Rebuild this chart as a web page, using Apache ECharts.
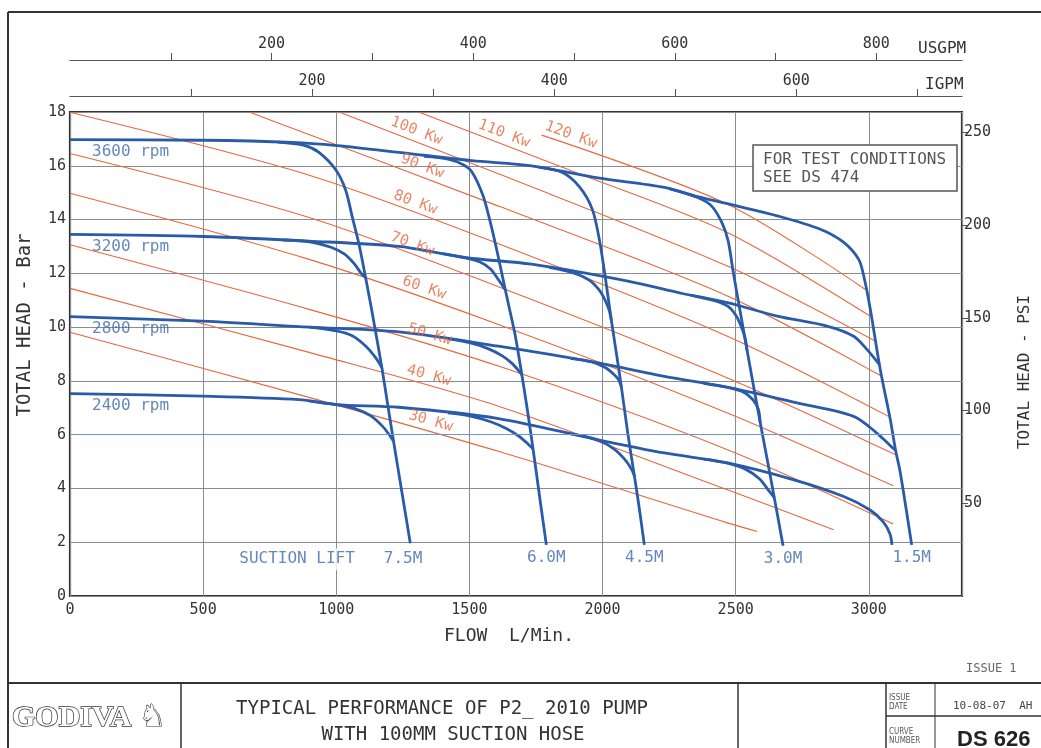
<!DOCTYPE html>
<html>
<head>
<meta charset="utf-8">
<script src="https://cdn.jsdelivr.net/npm/echarts@6/dist/echarts.min.js"></script>
<style>
  html, body { margin: 0; padding: 0; background: #fff; }
  #main { width: 1041px; height: 748px; }
</style>
</head>
<body>
<div id="main"></div>
<script>
// flow in L/min, head in bar
const FLOW_MAX = 3350;
const HEAD_MAX = 18;
const BAR_TO_PSI = 14.5038;
const L_PER_USGAL = 3.78541;
const L_PER_IGAL = 4.54609;

// pump speed curves
const rpmNames = ['3600 rpm', '3200 rpm', '2800 rpm', '2400 rpm'];
const rpm3600 = [[0,16.97],[500,16.95],[835,16.87],[1003,16.75],[1235,16.5],[1509,16.19],[1733,16.0],[1983,15.55],[2232,15.2],[2357,14.85],[2507,14.5],[2656,14.14],[2818,13.64],[2906,13.15],[2962,12.52],[2981,11.9],[3005,10.7],[3043,8.42],[3080,6.6],[3100,5.45],[3118,4.6],[3161,1.9]];
const rpm3200 = [[0,13.45],[499,13.37],[898,13.2],[1235,13.0],[1490,12.58],[1733,12.34],[2095,11.71],[2300,11.25],[2469,10.91],[2656,10.41],[2843,10.04],[2943,9.66],[2993,9.17],[3040,8.6]];
const rpm2800 = [[0,10.39],[499,10.22],[898,10.0],[1235,9.82],[1609,9.29],[1983,8.67],[2232,8.17],[2481,7.74],[2731,7.18],[2943,6.68],[3030,6.06],[3080,5.6],[3100,5.42]];
const rpm2400 = [[0,7.53],[499,7.43],[860,7.3],[998,7.12],[1235,7.02],[1609,6.6],[1983,5.81],[2232,5.32],[2469,4.95],[2719,4.32],[2906,3.7],[3005,3.2],[3055,2.75],[3080,2.3],[3087,1.9]];

// suction lift limits (the 1.5M limit is the tail of the 3600 rpm curve)
const liftNames = ['7.5M', '6.0M', '4.5M', '3.0M', '1.5M'];
const lift75 = [[780,16.88],[880,16.76],[935,16.5],[998,15.85],[1035,15.1],[1060,14.1],[1085,13.1],[1110,11.85],[1130,10.8],[1150,9.7],[1172,8.45],[1195,7.0],[1216,5.7],[1247,3.83],[1278,1.96]];
const lift60 = [[1330,16.35],[1420,16.25],[1475,16.05],[1509,15.78],[1550,14.92],[1578,13.92],[1603,12.86],[1628,11.7],[1650,10.7],[1672,9.7],[1695,8.35],[1718,6.9],[1740,5.4],[1765,3.6],[1789,1.9]];
const lift45 = [[1760,15.95],[1850,15.75],[1915,15.2],[1962,14.37],[1990,13.15],[2011,11.8],[2031,10.4],[2047,9.35],[2069,7.9],[2095,6.04],[2118,4.57],[2137,3.33],[2157,1.9]];
const lift30 = [[2250,15.15],[2357,14.82],[2410,14.5],[2450,13.85],[2472,13.2],[2490,12.1],[2512,10.85],[2540,9.3],[2568,7.75],[2596,6.25],[2621,4.95],[2647,3.55],[2678,1.87]];

// lower speed curves bending onto each suction lift limit
const bend3200to75 = [[800,13.24],[900,13.17],[980,12.97],[1030,12.72],[1068,12.35],[1095,11.98],[1110,11.85]];
const bend3200to60 = [[1400,12.73],[1480,12.58],[1540,12.42],[1580,12.15],[1610,11.75],[1635,11.38]];
const bend3200to45 = [[1800,12.22],[1890,12.02],[1950,11.75],[1990,11.35],[2012,10.95],[2026,10.6],[2033,10.27]];
const bend3200to30 = [[2330,11.19],[2420,10.98],[2470,10.78],[2500,10.45],[2522,10.0],[2535,9.6],[2543,9.13]];
const bend2800to75 = [[900,10.0],[1000,9.86],[1060,9.68],[1110,9.3],[1145,8.9],[1171,8.5]];
const bend2800to60 = [[1420,9.56],[1500,9.42],[1570,9.2],[1625,8.92],[1660,8.65],[1683,8.4],[1697,8.22]];
const bend2800to45 = [[1880,8.84],[1960,8.71],[2010,8.5],[2042,8.25],[2060,8.05],[2071,7.76]];
const bend2800to30 = [[2380,7.91],[2470,7.76],[2530,7.58],[2565,7.3],[2585,6.95],[2592,6.47]];
const bend2400to75 = [[900,7.25],[1000,7.12],[1070,6.97],[1130,6.7],[1175,6.3],[1200,5.98],[1215,5.76]];
const bend2400to60 = [[1420,6.81],[1500,6.7],[1580,6.48],[1640,6.22],[1685,5.95],[1715,5.7],[1739,5.47]];
const bend2400to45 = [[1880,6.03],[1980,5.81],[2045,5.45],[2090,5.0],[2112,4.65],[2120,4.44]];
const bend2400to30 = [[2380,5.09],[2470,4.94],[2540,4.7],[2590,4.35],[2622,3.95],[2645,3.66]];

// absorbed power lines
const kwNames = ['30 Kw', '40 Kw', '50 Kw', '60 Kw', '70 Kw', '80 Kw', '90 Kw', '100 Kw', '110 Kw', '120 Kw'];
const kw30 = [[0,9.81],[860,7.49],[1609,5.38],[2469,2.72],[2581,2.40]];
const kw40 = [[0,11.44],[898,9.06],[1609,7.06],[2469,3.95],[2868,2.46]];
const kw50 = [[0,13.06],[898,10.66],[1609,8.55],[2469,5.44],[3092,2.68]];
const kw60 = [[0,14.98],[898,12.52],[1609,10.1],[2469,6.81],[3092,4.10]];
const kw70 = [[0,16.46],[898,14.08],[1609,11.5],[2469,8.11],[3099,5.26]];
const kw80 = [[0,17.99],[898,15.65],[1609,13.1],[2469,9.66],[3074,6.68]];
const kw90 = [[673,18],[860,17.3],[1609,14.5],[2469,11.16],[3049,8.17]];
const kw100 = [[1010,18],[1609,15.7],[2469,12.27],[3024,9.48]];
const kw110 = [[1309,18],[1900,15.75],[2469,13.52],[3005,10.41]];
const kw120 = [[1771,17.14],[2469,14.57],[2987,11.4]];
const kwLabelFlow = [1347, 1340, 1343, 1321, 1276, 1287, 1313, 1291, 1620, 1871];

const rpmCurves = [rpm3600, rpm3200, rpm2800, rpm2400];
const liftCurves = [lift75, lift60, lift45, lift30];
const bends = [bend3200to75, bend3200to60, bend3200to45, bend3200to30,
               bend2800to75, bend2800to60, bend2800to45, bend2800to30,
               bend2400to75, bend2400to60, bend2400to45, bend2400to30];
const kwLines = [kw30, kw40, kw50, kw60, kw70, kw80, kw90, kw100, kw110, kw120];

const BLUE = '#2a5ba9';
const LABEL_BLUE = '#3d69ab';
const ORANGE = '#e5683f';
const INK = '#333';
const MONO = 'DejaVu Sans Mono';

function headAt(line, f) {
  let i = 0;
  while (i < line.length - 2 && line[i + 1][0] < f) i++;
  const a = line[i], b = line[i + 1];
  return a[1] + (b[1] - a[1]) * (f - a[0]) / (b[0] - a[0]);
}

function blueLine(data) {
  return {
    type: 'line', data: data, showSymbol: false, smooth: 0.3, silent: true, z: 3,
    lineStyle: { color: BLUE, width: 2.8 }
  };
}

const series = [];
kwLines.forEach(function (line, i) {
  const s = {
    type: 'line', name: kwNames[i], data: line, showSymbol: false, smooth: 0.3, silent: true, z: 2,
    lineStyle: { color: ORANGE, width: 1.1 }
  };
  if (i === 0) {
    s.markLine = {
      silent: true, symbol: 'none', label: { show: false },
      lineStyle: { color: '#6f96d4', width: 1, type: 'solid' },
      data: [{ yAxis: 6 }]
    };
  }
  series.push(s);
});
rpmCurves.forEach(c => series.push(blueLine(c)));
liftCurves.forEach(c => series.push(blueLine(c)));
bends.forEach(c => series.push(blueLine(c)));

// speed labels
series.push({
  type: 'scatter', symbolSize: 0, silent: true, z: 5,
  data: rpmCurves.map((c, i) => ({ name: rpmNames[i], value: c[0] })),
  label: {
    show: true, formatter: '{b}', position: [22, 4], align: 'left', verticalAlign: 'top',
    color: LABEL_BLUE, fontFamily: MONO, fontSize: 16
  }
});

// suction lift labels at the foot of each limit
const liftEnds = liftCurves.concat([rpm3600]).map(c => c[c.length - 1]);
series.push({
  type: 'scatter', symbolSize: 0, silent: true, z: 5,
  data: liftEnds.map((p, i) => {
    const item = { name: liftNames[i], value: p };
    if (i === 0) {
      item.label = { formatter: 'SUCTION LIFT   7.5M', align: 'right', offset: [14, 0],
        backgroundColor: '#fff', padding: [3, 2] };
    }
    return item;
  }),
  label: {
    show: true, formatter: '{b}', position: 'bottom', distance: 5,
    color: LABEL_BLUE, fontFamily: MONO, fontSize: 16
  }
});

// power labels, rotated later to follow their lines
series.push({
  id: 'kwLabels', type: 'scatter', symbolSize: 0, silent: true, z: 5,
  data: kwLines.map((line, i) => ({ name: kwNames[i], value: [kwLabelFlow[i], headAt(line, kwLabelFlow[i])] })),
  label: {
    show: true, formatter: '{b}', position: 'top', distance: 3,
    color: ORANGE, fontFamily: MONO, fontSize: 15
  }
});

const tickText = { color: INK, fontFamily: MONO, fontSize: 15 };

const option = {
  animation: false,
  backgroundColor: '#fff',
  textStyle: { fontFamily: MONO },
  grid: { left: 70, right: 74, top: 112, bottom: 152, show: true, borderColor: INK, borderWidth: 2.2, backgroundColor: 'transparent' },
  xAxis: [
    {
      type: 'value', position: 'bottom', min: 0, max: FLOW_MAX, interval: 500,
      axisLine: { show: false, onZero: false }, axisTick: { show: false },
      axisLabel: Object.assign({ margin: 7, formatter: v => (v % 500 === 0 ? String(v) : '') }, tickText),
      splitLine: { show: true, lineStyle: { color: '#8c8c8c', width: 1 } },
      name: 'FLOW  L/Min.', nameLocation: 'middle', nameGap: 31,
      nameTextStyle: { color: INK, fontFamily: MONO, fontSize: 18, padding: [0, 14, 0, 0] }
    },
    {
      type: 'value', position: 'top', offset: 16, min: 0, max: FLOW_MAX / L_PER_IGAL, interval: 100,
      axisLine: { show: true, onZero: false, lineStyle: { color: '#555', width: 1.2 } },
      axisTick: { show: true, length: 7, lineStyle: { color: '#555' }, customValues: [100, 200, 300, 400, 500, 600, 700] },
      axisLabel: Object.assign({ margin: 7, customValues: [200, 400, 600], formatter: v => (v > 0 && v % 200 === 0 ? String(v) : '') }, tickText),
      splitLine: { show: false },
      name: 'IGPM', nameLocation: 'end', nameGap: -37,
      nameTextStyle: { color: INK, fontFamily: MONO, fontSize: 16, align: 'left', verticalAlign: 'bottom', padding: [0, 0, 3, 0] }
    },
    {
      type: 'value', position: 'top', offset: 52, min: 0, max: FLOW_MAX / L_PER_USGAL, interval: 100,
      axisLine: { show: true, onZero: false, lineStyle: { color: '#555', width: 1.2 } },
      axisTick: { show: true, length: 7, lineStyle: { color: '#555' }, customValues: [100, 200, 300, 400, 500, 600, 700, 800] },
      axisLabel: Object.assign({ margin: 8, customValues: [200, 400, 600, 800], formatter: v => (v > 0 && v % 200 === 0 ? String(v) : '') }, tickText),
      splitLine: { show: false },
      name: 'USGPM', nameLocation: 'end', nameGap: -44,
      nameTextStyle: { color: INK, fontFamily: MONO, fontSize: 16, align: 'left', verticalAlign: 'bottom', padding: [0, 0, 3, 0] }
    }
  ],
  yAxis: [
    {
      type: 'value', position: 'left', min: 0, max: HEAD_MAX, interval: 2,
      axisLine: { show: false, onZero: false }, axisTick: { show: false },
      axisLabel: Object.assign({ margin: 4 }, tickText),
      splitLine: { show: true, lineStyle: { color: '#8c8c8c', width: 1 } },
      name: 'TOTAL HEAD - Bar', nameLocation: 'middle', nameGap: 35,
      nameTextStyle: { color: INK, fontFamily: MONO, fontSize: 19, padding: [0, 0, 0, 58] }
    },
    {
      type: 'value', position: 'right', min: 0, max: HEAD_MAX * BAR_TO_PSI, interval: 50,
      axisLine: { show: false, onZero: false },
      axisTick: { show: true, length: 6, lineStyle: { color: '#555' }, customValues: [50, 100, 150, 200, 250] },
      axisLabel: Object.assign({ margin: 2, customValues: [50, 100, 150, 200, 250], formatter: v => (v > 0 && v % 50 === 0 ? String(v) : '') }, tickText),
      splitLine: { show: false },
      name: 'TOTAL HEAD - PSI', nameLocation: 'middle', nameGap: 55,
      nameTextStyle: { color: INK, fontFamily: MONO, fontSize: 16, padding: [0, 36, 0, 0] }
    }
  ],
  graphic: [
    // drawing frame and title block
    { type: 'line', z: 10, shape: { x1: 8, y1: 12, x2: 1041, y2: 12 }, style: { stroke: INK, lineWidth: 2 } },
    { type: 'line', z: 10, shape: { x1: 8, y1: 12, x2: 8, y2: 748 }, style: { stroke: INK, lineWidth: 2 } },
    { type: 'line', z: 10, shape: { x1: 8, y1: 683, x2: 1041, y2: 683 }, style: { stroke: INK, lineWidth: 2 } },
    { type: 'line', z: 10, shape: { x1: 181, y1: 683, x2: 181, y2: 748 }, style: { stroke: INK, lineWidth: 1.5 } },
    { type: 'line', z: 10, shape: { x1: 738, y1: 683, x2: 738, y2: 748 }, style: { stroke: INK, lineWidth: 1.5 } },
    { type: 'line', z: 10, shape: { x1: 886, y1: 683, x2: 886, y2: 748 }, style: { stroke: INK, lineWidth: 1.5 } },
    { type: 'line', z: 10, shape: { x1: 935, y1: 683, x2: 935, y2: 748 }, style: { stroke: INK, lineWidth: 1 } },
    { type: 'line', z: 10, shape: { x1: 886, y1: 716, x2: 1041, y2: 716 }, style: { stroke: INK, lineWidth: 1.5 } },
    { type: 'text', z: 10, x: 966, y: 669, style: { text: 'ISSUE 1', fill: '#666', fontFamily: MONO, fontSize: 12, verticalAlign: 'middle' } },
    { type: 'text', z: 10, x: 442, y: 709, style: { text: 'TYPICAL PERFORMANCE OF P2_ 2010 PUMP', fill: INK, fontFamily: MONO, fontSize: 19, align: 'center', verticalAlign: 'middle' } },
    { type: 'text', z: 10, x: 453, y: 735, style: { text: 'WITH 100MM SUCTION HOSE', fill: INK, fontFamily: MONO, fontSize: 19, align: 'center', verticalAlign: 'middle' } },
    { type: 'text', z: 10, x: 889, y: 702, style: { text: 'ISSUE\nDATE', fill: '#555', fontFamily: 'DejaVu Sans Condensed', fontSize: 8, lineHeight: 9, verticalAlign: 'middle' } },
    { type: 'text', z: 10, x: 889, y: 736, style: { text: 'CURVE\nNUMBER', fill: '#555', fontFamily: 'DejaVu Sans Condensed', fontSize: 8, lineHeight: 9, verticalAlign: 'middle' } },
    { type: 'text', z: 10, x: 953, y: 706, style: { text: '10-08-07  AH', fill: '#444', fontFamily: MONO, fontSize: 11, verticalAlign: 'middle' } },
    { type: 'text', z: 10, x: 957, y: 740, style: { text: 'DS 626', fill: '#222', fontFamily: 'Liberation Sans', fontWeight: 'bold', fontSize: 22, verticalAlign: 'middle' } },
    { type: 'text', z: 10, x: 12, y: 718, style: { text: 'GODIVA', fill: '#fff', stroke: '#333', lineWidth: 1.4, fontFamily: 'Liberation Serif', fontWeight: 'bold', fontSize: 30, verticalAlign: 'middle' } },
    { type: 'text', z: 10, x: 139, y: 718, style: { text: '\u265E', fill: '#fff', stroke: '#333', lineWidth: 1.2, fontFamily: 'DejaVu Sans', fontSize: 30, verticalAlign: 'middle' } },
    // test conditions note
    { type: 'rect', z: 10, shape: { x: 753, y: 145, width: 204, height: 46 }, style: { fill: '#fff', stroke: '#555', lineWidth: 1.5 } },
    { type: 'text', z: 11, x: 763, y: 160, style: { text: 'FOR TEST CONDITIONS', fill: '#555', fontFamily: MONO, fontSize: 16, verticalAlign: 'middle' } },
    { type: 'text', z: 11, x: 763, y: 178, style: { text: 'SEE DS 474', fill: '#555', fontFamily: MONO, fontSize: 16, verticalAlign: 'middle' } }
  ],
  series: series
};

const chart = echarts.init(document.getElementById('main'));
chart.setOption(option);

// turn each power label to lie along its line
const kwLabelData = kwLines.map(function (line, i) {
  const f = kwLabelFlow[i];
  const p1 = chart.convertToPixel({ xAxisIndex: 0, yAxisIndex: 0 }, [f - 80, headAt(line, f - 80)]);
  const p2 = chart.convertToPixel({ xAxisIndex: 0, yAxisIndex: 0 }, [f + 80, headAt(line, f + 80)]);
  const angle = -Math.atan2(p2[1] - p1[1], p2[0] - p1[0]) * 180 / Math.PI;
  return { name: kwNames[i], value: [f, headAt(line, f)], label: { rotate: angle } };
});
chart.setOption({ series: [{ id: 'kwLabels', data: kwLabelData }] });
</script>
</body>
</html>
